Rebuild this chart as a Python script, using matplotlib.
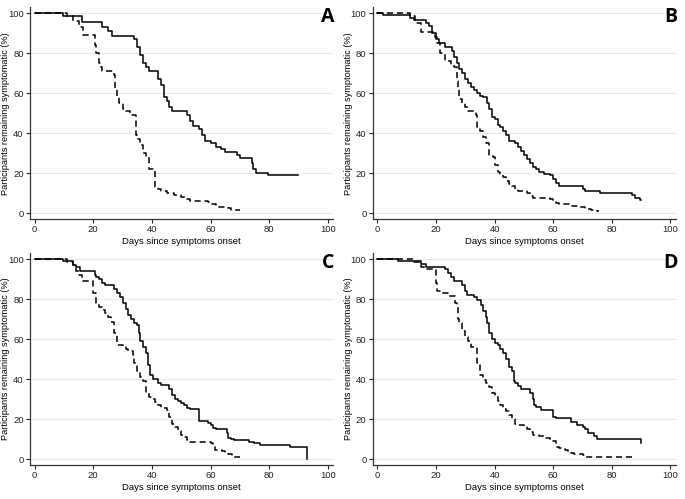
import matplotlib
matplotlib.use("Agg")
import matplotlib.pyplot as plt

# Kaplan-Meier steps (days, % remaining symptomatic)
a_solid_t = [0, 9.5, 16, 23, 25, 26.5, 34, 35, 36, 37, 38, 39, 42, 43, 44, 45, 46, 47, 52, 53,
             54, 56, 57, 58, 60, 62, 63.5, 65, 69, 70, 74, 74.5, 75.5, 79.5, 90]
a_solid_s = [100, 98.5, 95.5, 93, 91, 88.5, 87, 83, 79, 75, 73, 71, 67, 64, 58, 56, 53, 51, 49, 46,
             43.5, 42, 39, 36, 35, 33, 32, 30.5, 29, 27.5, 25, 22, 20.3, 19, 19]
a_dash_t = [0, 11, 13, 15, 16.5, 20.5, 21, 22, 22.5, 23, 27, 27.3, 28, 28.7, 30, 31, 32.5, 34.5, 35, 36,
            37, 38, 39, 40.5, 41, 42, 43, 45, 47.5, 50, 52, 53, 59, 60, 62, 66, 67, 70]
a_dash_s = [100, 98.5, 96, 93, 89, 84, 80, 75, 73, 71, 69, 62, 58, 55, 52, 51, 49, 39, 37, 34,
            30, 28, 22, 21, 13, 12, 11, 10, 9, 8, 7, 6, 5.5, 4.5, 3, 2.5, 1.5, 1.5]

b_solid_t = [0, 2, 11, 12.5, 16.5, 17.5, 18.5, 20, 21, 23, 25.5, 26, 27, 28, 29, 30, 31, 32, 33, 34,
             35, 36, 37.5, 38, 39, 40, 41, 42, 43, 44, 45, 47, 48, 49, 50, 51, 52, 53, 54, 55,
             57, 59, 60, 61, 62, 70, 71, 76, 87, 88, 89.5, 90]
b_solid_s = [100, 99, 97.5, 96.5, 95, 93.5, 90, 87, 85, 83, 81, 78, 75, 72, 70, 67, 65, 63, 61.5, 60,
             58.5, 58, 55, 52, 48, 47, 44, 43, 41, 39, 36, 35, 33, 31, 29, 27, 25, 23, 22, 20.5,
             19.5, 19, 17, 15, 13.5, 12, 11.2, 10, 9, 7.5, 6.5, 6.5]
b_dash_t = [0, 11, 13, 14.8, 19.8, 20.5, 21.5, 23, 25, 26, 27, 27.5, 28, 29, 30, 31, 33.5, 34, 35, 36,
            37, 38, 39.5, 40, 41, 42, 43, 44, 45, 46, 47, 48, 51, 52, 53, 59, 60, 61, 62, 66,
            69, 71, 73, 75, 75.5]
b_dash_s = [100, 98.5, 95, 90.5, 88, 85, 80, 76, 74, 73, 66, 62, 57, 55, 53, 51, 49, 43, 41, 38,
            35, 29, 28, 24, 20.5, 19.5, 18, 16, 14.5, 13.5, 12, 11, 10, 8.5, 7.5, 7, 6, 5, 4.5, 3.5,
            3, 2, 1.5, 1, 1]

c_solid_t = [0, 9.5, 13, 14, 15.5, 20.5, 21, 22, 23, 24, 27, 28, 29, 30, 31, 32, 33, 34, 35, 35.5,
             36, 37, 38, 38.5, 39.5, 40.5, 42, 43, 46, 47, 48, 49, 50, 51, 52, 53, 56, 59, 60, 61,
             62, 65.5, 66, 67, 68, 73, 75, 77, 87, 93]
c_solid_s = [100, 99, 97, 96, 94, 92, 91, 90, 88, 87, 85, 83, 81, 78, 75, 72, 70, 68, 67, 63,
             59, 56, 53, 47, 42, 40, 38, 37, 35, 32, 30, 29, 28, 27, 25.5, 25, 19, 18, 17, 15.5,
             15, 13, 10.5, 10, 9.5, 8.5, 8, 7, 6, 0]
c_dash_t = [0, 11, 13, 14, 15, 16, 20, 21, 22, 23, 24, 25, 26, 27, 28, 30, 31, 32, 33.5, 34,
            35, 36, 37, 38, 39, 40, 41, 42, 43, 45, 46, 47, 48, 49, 50, 51, 52, 53, 60, 61,
            61.5, 64, 65, 66, 67.5, 68, 70]
c_dash_s = [100, 98.5, 97, 94, 92, 89, 83, 78, 76, 74.5, 73, 71, 68.5, 63, 57, 56, 55, 54, 52, 48,
            44, 41, 39, 33, 31, 30, 28.5, 27, 25.5, 24.5, 21, 17.5, 16, 14, 12, 11, 9.5, 8.5, 8, 7,
            4.5, 4, 3, 2.5, 1.5, 1, 1]

d_solid_t = [0, 7, 15, 16.5, 23, 24, 25, 26, 29, 30, 30.5, 33, 34, 35.5, 36, 37, 37.5, 38, 39, 40,
             41, 42, 43, 44, 45, 46, 46.5, 47, 48, 49, 52, 53, 53.5, 54, 56, 60, 61, 66, 68, 70,
             71, 72, 74, 75, 90, 90]
d_solid_s = [100, 99, 97.5, 96, 95, 93, 91, 89, 87, 84, 82, 81, 79.5, 77, 74, 71, 68, 63, 60, 58,
             57, 55, 53, 50, 46, 44, 39, 38, 36.5, 35, 33, 30, 27, 26, 24.5, 21, 20.5, 18.5, 17, 16,
             15, 13, 11.5, 10, 8, 8]
d_dash_t = [0, 12.5, 15, 17, 20, 20.5, 22, 24, 26.5, 27, 27.5, 28, 29, 30, 31, 32, 34, 35, 36, 37,
            38, 39, 40, 41, 42, 43, 44, 45, 46, 47, 48, 50, 51, 52, 53, 55, 57, 59, 60, 61,
            62, 64, 65, 66, 67, 70, 71, 87]
d_dash_s = [100, 98.5, 96, 95, 88, 84, 83, 81.5, 78, 76, 70, 68, 64, 61, 59, 56, 48, 42, 39.5, 38,
            36, 33, 31, 29, 27, 25, 24, 22, 20, 17.5, 17, 16, 15, 13.5, 12, 11.5, 10.5, 10, 9, 6,
            5.5, 4.5, 4, 3, 2.5, 2, 1, 1]

panel_letters = ["A", "B", "C", "D"]
x_ticks = [0, 20, 40, 60, 80, 100]
y_ticks = [0, 20, 40, 60, 80, 100]

plt.rcParams['font.family'] = ['Liberation Sans', 'DejaVu Sans']

W, H = 685, 499


def plot_panel(ax, solid_t, solid_s, dash_t, dash_s, letter):
    assert len(solid_t) == len(solid_s)
    assert len(dash_t) == len(dash_s)

    for y in y_ticks:
        ax.axhline(y, color="#e9e9e9", lw=0.8, zorder=0)

    ax.step(solid_t, solid_s, where="post", color="black", lw=1.1)
    ax.step(dash_t, dash_s, where="post", color="black", lw=1.1, linestyle=(0, (4, 2.5)))

    ax.set_xlim(-1.6, 101.8)
    ax.set_ylim(-2.8, 103)
    ax.set_xticks(x_ticks)
    ax.set_yticks(y_ticks)
    ax.tick_params(labelsize=6.8, length=3, width=0.8, pad=1.5, colors="#222222")

    for side in ["top", "right"]:
        ax.spines[side].set_visible(False)
    for side in ["left", "bottom"]:
        ax.spines[side].set_color("#333333")
        ax.spines[side].set_linewidth(0.9)

    ax.set_xlabel("Days since symptoms onset", fontsize=6.8)
    ax.set_ylabel("Participants remaining symptomatic (%)", fontsize=6.6)
    # spot the axis titles where the reference has them
    ax.xaxis.set_label_coords(0.5, -0.085)
    ax.yaxis.set_label_coords(-0.066, 0.5)

    ax.text(100, 98, letter, ha="center", va="center", fontsize=14,
            fontweight="bold", family="Open Sans")


def main():
    fig = plt.figure(figsize=(W / 100, H / 100), dpi=100)

    # axes boxes in pixels: left, top, right, bottom
    boxes = [(30, 7.5, 333, 219), (372.7, 7.5, 675.7, 219),
             (30, 253, 333, 465), (372.7, 253, 675.7, 465)]
    curves = [(a_solid_t, a_solid_s, a_dash_t, a_dash_s),
              (b_solid_t, b_solid_s, b_dash_t, b_dash_s),
              (c_solid_t, c_solid_s, c_dash_t, c_dash_s),
              (d_solid_t, d_solid_s, d_dash_t, d_dash_s)]

    for (l, t, r, b), data, letter in zip(boxes, curves, panel_letters):
        ax = fig.add_axes([l / W, (H - b) / H, (r - l) / W, (b - t) / H])
        plot_panel(ax, *data, letter)

    fig.savefig("out.png", dpi=100)


if __name__ == '__main__':
    main()
